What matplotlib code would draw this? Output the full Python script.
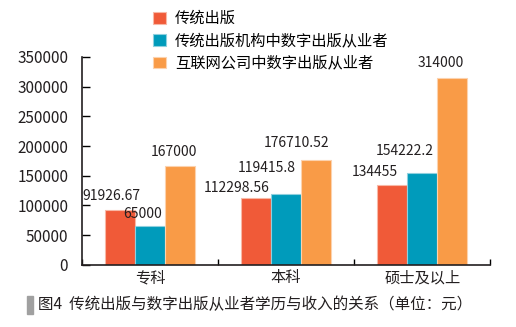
import numpy as np
import matplotlib.pyplot as plt

plt.rcParams['font.family'] = ['Noto Sans CJK SC', 'DejaVu Sans']

# 数据
categories = ['专科', '本科', '硕士及以上']
series_names = ['传统出版', '传统出版机构中数字出版从业者', '互联网公司中数字出版从业者']
traditional = [91926.67, 112298.56, 134455]
trad_digital = [65000, 119415.8, 154222.2]
internet_digital = [167000, 176710.52, 314000]
label_texts = [['91926.67', '112298.56', '134455'],
               ['65000', '119415.8', '154222.2'],
               ['167000', '176710.52', '314000']]

colors = ['#F05A38', '#009BBB', '#F99B47']
edge_colors = ['#F8B8A6', '#8FD0DE', '#FCD2AE']

# 标签偏移 (像素)
label_offsets = [[(-9, 14), (-20, 10), (-17, 13)],
                 [(-7, 12), (-19, 26), (-17, 22)],
                 [(-6, 14), (-19, 17), (-11, 15)]]

fig = plt.figure(figsize=(5.16, 3.27), dpi=100)
ax = fig.add_axes([0.159, 0.190, 0.791, 0.636])

x = np.arange(len(categories))
w = 0.22
all_series = [traditional, trad_digital, internet_digital]
for i, vals in enumerate(all_series):
    pos = x + (i - 1) * w
    ax.bar(pos, vals, width=w, color=colors[i], edgecolor=edge_colors[i],
           linewidth=0.8, label=series_names[i], zorder=2)
    for j, v in enumerate(vals):
        dx, dy = label_offsets[i][j]
        ax.annotate(label_texts[i][j], xy=(pos[j], v),
                    xytext=(dx * 0.72, dy * 0.72), textcoords='offset points',
                    ha='center', va='center', fontsize=10, color='#231F20')

ax.set_xlim(-0.5, 2.5)
ax.set_ylim(0, 350000)
ax.set_yticks(np.arange(0, 350001, 50000))
ax.set_yticklabels([str(v) for v in range(0, 350001, 50000)], fontsize=11, color='#231F20')
ax.set_xticks(x)
ax.set_xticklabels(categories, fontsize=11, color='#231F20')
ax.set_xticks([-0.5, 0.5, 1.5, 2.5], minor=True)
ax.tick_params(axis='x', which='major', length=0, pad=3)
ax.tick_params(axis='x', which='minor', direction='in', length=4, width=1)
ax.tick_params(axis='y', direction='in', length=6, width=1, pad=10)

for s in ['top', 'right']:
    ax.spines[s].set_visible(False)
for s in ['left', 'bottom']:
    ax.spines[s].set_linewidth(1.2)
    ax.spines[s].set_color('#231F20')

ax.legend(loc='upper left', bbox_to_anchor=(0.16, 1.255), frameon=False,
          fontsize=11, handlelength=0.8, handleheight=0.8, handletextpad=0.6,
          labelspacing=0.35, borderaxespad=0)

# 图题
fig.patches.append(plt.Rectangle((27 / 516, 1 - 314 / 327), 6 / 516, 18 / 327,
                                 transform=fig.transFigure, color='#A0A0A0'))
fig.text(38 / 516, 1 - 305 / 327, '图4  传统出版与数字出版从业者学历与收入的关系（单位：元）',
         fontsize=11.2, va='center', ha='left', color='#231F20')

fig.savefig('out.png', dpi=100)
